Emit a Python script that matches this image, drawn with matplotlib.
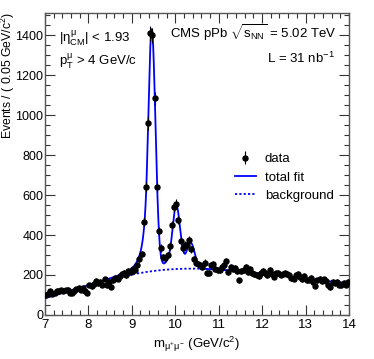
import numpy as np
import matplotlib
matplotlib.use("Agg")
import matplotlib.pyplot as plt
from matplotlib.ticker import MultipleLocator
from math import erf

plt.rcParams['font.family'] = ['Liberation Sans', 'DejaVu Sans']
plt.rcParams['mathtext.fontset'] = 'custom'
plt.rcParams['mathtext.rm'] = 'Liberation Sans'
plt.rcParams['mathtext.it'] = 'Liberation Sans'
plt.rcParams['mathtext.bf'] = 'Liberation Sans:bold'

# ---- data: events per 0.05 GeV bin, 7.0 - 14.0 GeV ----
bin_lo = 7.0
bin_width = 0.05
counts = [
    100, 104, 118, 107, 112, 122, 118, 126, 121, 124,
    127, 111, 109, 122, 128, 136, 124, 133, 118, 108,
    150, 143, 156, 172, 160, 166, 152, 178, 148, 167,
    142, 175, 186, 182, 196, 203, 210, 198, 220, 215,
    232, 226, 248, 282, 305, 467, 640, 958, 1410, 1400,
    1083, 641, 420, 335, 288, 283, 300, 345, 450, 540,
    555, 475, 370, 335, 350, 352, 375, 328, 280, 262,
    255, 248, 240, 262, 210, 212, 250, 255, 228, 226,
    226, 240, 252, 268, 216, 238, 230, 236, 218, 174,
    222, 226, 240, 215, 228, 212, 205, 198, 194, 210,
    222, 212, 200, 226, 206, 192, 208, 210, 202, 204,
    212, 205, 198, 184, 182, 198, 206, 190, 180, 196,
    175, 176, 186, 165, 146, 174, 182, 170, 178, 168,
    150, 138, 166, 158, 165, 150, 148, 162, 152, 165,
]

# ---- fit model parameters ----
peak_mass = [9.460, 10.023, 10.355]
peak_sigma = [0.085, 0.090, 0.093]
peak_amp = [1205, 310, 130]
cb_alpha = 1.3
cb_n = 2.5
bg_norm = 442.0
bg_lambda = 6.8
bg_turn_on = 8.5
bg_width = 2.44

x_ticks = [7, 8, 9, 10, 11, 12, 13, 14]
y_ticks = [0, 200, 400, 600, 800, 1000, 1200, 1400]


def crystal_ball(t, a, n):
    A = (n / a) ** n * np.exp(-a * a / 2)
    B = n / a - a
    out = np.exp(-t * t / 2)
    m = t < -a
    out[m] = A * (B - t[m]) ** (-n)
    return out


def background(m):
    e = np.array([erf(v) for v in (m - bg_turn_on) / bg_width])
    return bg_norm * np.exp(-(m - 7.0) / bg_lambda) * 0.5 * (1 + e)


def total(m):
    s = background(m)
    for mu, sg, am in zip(peak_mass, peak_sigma, peak_amp):
        s = s + am * crystal_ball((m - mu) / sg, cb_alpha, cb_n)
    return s


counts = np.array(counts, dtype=float)
centers = bin_lo + bin_width * (np.arange(len(counts)) + 0.5)
errs = np.sqrt(counts)

fig = plt.figure(figsize=(3.74, 3.59), dpi=100)
ax = fig.add_axes([0.120, 0.1226, 0.813, 0.841])

mm = np.linspace(7, 14, 2000)
ax.plot(mm, total(mm), color='#0000ff', lw=1.3, label='total fit', zorder=3)
ax.plot(mm, background(mm), color='#0000ff', lw=1.3, ls=(0, (1.2, 1.2)),
        label='background', zorder=2)
ax.errorbar(centers, counts, yerr=errs, fmt='o', color='black', ms=3.6,
            elinewidth=0.8, capsize=0, label='data', zorder=4)

ax.set_xlim(7, 14)
ax.set_ylim(0, 1510)
ax.set_xticks(x_ticks)
ax.set_yticks(y_ticks)
ax.xaxis.set_minor_locator(MultipleLocator(0.2))
ax.yaxis.set_minor_locator(MultipleLocator(50))
ax.tick_params(which='both', direction='in', top=True, right=True,
               labelsize=9.5, color='#333333')
ax.tick_params(which='major', length=7, width=0.8)
ax.tick_params(which='minor', length=3.5, width=0.8)
ax.tick_params(axis='x', pad=3)
ax.tick_params(axis='y', pad=1.2, labelsize=9)
for sp in ax.spines.values():
    sp.set_color('#555555')
    sp.set_linewidth(1.0)

ax.set_xlabel(r'$m_{\mu^{+}\mu^{-}}$ (GeV/c$^{2}$)', fontsize=9.5)
ax.xaxis.set_label_coords(0.5, -0.066)
fig.text(8.0 / 374, 1 - 12 / 359, r'Events / ( 0.05 GeV/c$^{2}$)', fontsize=8.8,
         rotation=90, ha='center', va='top')

ax.text(0.045, 0.915, r'$|\eta^{\mu}_{CM}|$ < 1.93', transform=ax.transAxes,
        fontsize=9.5, va='center')
ax.text(0.045, 0.84, r'$p^{\mu}_{T}$ > 4 GeV/c', transform=ax.transAxes,
        fontsize=9.5, va='center')
ax.text(0.958, 0.935, r'CMS pPb $\sqrt{s_{NN}}$ = 5.02 TeV', transform=ax.transAxes,
        fontsize=9.5, va='center', ha='right')
ax.text(0.955, 0.85, r'L = 31 nb$^{-1}$', transform=ax.transAxes,
        fontsize=9.5, va='center', ha='right')

h, l = ax.get_legend_handles_labels()
order = [2, 0, 1]
ax.legend([h[i] for i in order], [l[i] for i in order], loc='upper left',
          bbox_to_anchor=(0.585, 0.575), frameon=False, fontsize=9.5,
          handlelength=1.6, handletextpad=0.7, labelspacing=0.45)

fig.savefig('out.png', dpi=100)
